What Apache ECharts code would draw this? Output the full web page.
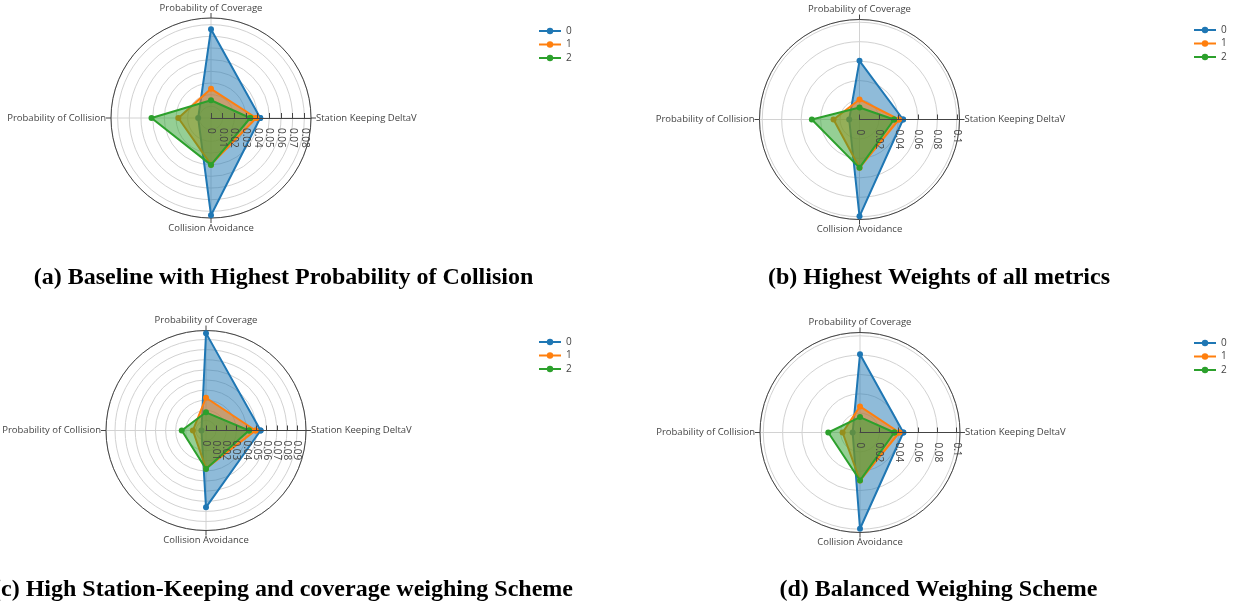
<!DOCTYPE html>
<html>
<head>
<meta charset="utf-8">
<script src="https://cdn.jsdelivr.net/npm/echarts@6/dist/echarts.min.js"></script>
<style>html,body{margin:0;padding:0;background:#fff;}#chart{width:1239px;height:611px;}</style>
</head>
<body>
<div id="chart"></div>
<script>
// Categories in counter-clockwise order starting at 0 degrees (right)
const categories = ['Station Keeping DeltaV', 'Probability of Coverage', 'Probability of Collision', 'Collision Avoidance'];
const seriesNames = ['0', '1', '2'];
const colors = ['#1f77b4', '#ff7f0e', '#2ca02c'];

// (a) Baseline with Highest Probability of Collision
const a0 = [0.0422, 0.0761, 0.0110, 0.0833];
const a1 = [0.0388, 0.0250, 0.0280, 0.0400];
const a2 = [0.0336, 0.0152, 0.0510, 0.0402];
// (b) Highest Weights of all metrics
const b0 = [0.0448, 0.0603, 0.0106, 0.0995];
const b1 = [0.0405, 0.0206, 0.0267, 0.0497];
const b2 = [0.0355, 0.0123, 0.0490, 0.0497];
// (c) High Station-Keeping and coverage weighing Scheme
const c0 = [0.0540, 0.0963, 0.0045, 0.0760];
const c1 = [0.0490, 0.0324, 0.0130, 0.0375];
const c2 = [0.0425, 0.0180, 0.0240, 0.0380];
// (d) Balanced Weighing Scheme
const d0 = [0.0448, 0.0810, 0.0076, 0.0995];
const d1 = [0.0407, 0.0270, 0.0180, 0.0497];
const d2 = [0.0355, 0.0159, 0.0328, 0.0497];

const radialMax = [0.0857, 0.1028, 0.0989, 0.1034];
const radialStep = [0.01, 0.02, 0.01, 0.02];
const captions = [
  '(a) Baseline with Highest Probability of Collision',
  '(b) Highest Weights of all metrics',
  '(c) High Station-Keeping and coverage weighing Scheme',
  '(d) Balanced Weighing Scheme'
];

const panels = [[a0, a1, a2], [b0, b1, b2], [c0, c1, c2], [d0, d1, d2]];
const centers = [[211, 118], [859.5, 119.5], [206, 430.5], [860, 432.5]];
const legendPos = [[538, 25], [1193, 24], [538, 336], [1193, 337]];
const captionPos = [[283.5, 278], [939, 278], [283, 590], [938.5, 590]];

const FONT = '"Open Sans", "DejaVu Sans", sans-serif';
const GRID = '#d2d2d2';

function closed(vals) {
  const d = vals.map((v, i) => [v, i * 90]);
  d.push([vals[0], 360]);
  return d;
}

// polars 0..3: grid + data (below series); polars 4..7: radial axis overlay (above series)
const polar = [], angleAxis = [], radiusAxis = [];
centers.forEach((c, i) => {
  polar.push({ center: c, radius: [0, 100] });
  angleAxis.push({
    polarIndex: i, z: 1,
    type: 'value', min: 0, max: 360, interval: 90,
    startAngle: 0, clockwise: false,
    axisLine: { show: true, lineStyle: { color: '#444', width: 1 } },
    axisTick: { show: true, length: 5, lineStyle: { color: '#444' } },
    axisLabel: {
      formatter: v => (v < 360 ? categories[Math.round(v / 90)] : ''),
      color: '#444', fontSize: 9.5, fontFamily: FONT, margin: 5
    },
    splitLine: { show: true, lineStyle: { color: GRID, width: 1 } }
  });
  radiusAxis.push({
    polarIndex: i, z: 0,
    type: 'value', min: 0, max: radialMax[i], interval: radialStep[i],
    axisLine: { show: false }, axisTick: { show: false }, axisLabel: { show: false },
    splitLine: { show: true, lineStyle: { color: GRID, width: 1 } }
  });
});
centers.forEach((c, i) => {
  const k = i + 4;
  polar.push({ center: c, radius: [0, 100] });
  angleAxis.push({
    polarIndex: k, show: false,
    type: 'value', min: 0, max: 360, interval: 90,
    startAngle: 0, clockwise: false
  });
  radiusAxis.push({
    polarIndex: k, z: 10,
    type: 'value', min: 0, max: radialMax[i], interval: radialStep[i],
    axisLine: { show: true, lineStyle: { color: '#444', width: 1 } },
    axisTick: { show: true, inside: false, length: 5, lineStyle: { color: '#444' } },
    axisLabel: {
      rotate: -90, align: 'left', verticalAlign: 'middle', margin: -10,
      showMaxLabel: false, color: '#444', fontSize: 10, fontFamily: FONT
    },
    splitLine: { show: false }
  });
});

const option = {
  backgroundColor: '#fff',
  animation: false,
  polar, angleAxis, radiusAxis,
  legend: legendPos.map(p => ({
    data: seriesNames,
    orient: 'vertical', left: p[0], top: p[1] + 1, padding: 0,
    itemWidth: 22, itemHeight: 8, itemGap: 3.5,
    textStyle: { fontSize: 10, color: '#444', fontFamily: FONT }
  })),
  series: [],
  graphic: captions.map((t, i) => ({
    type: 'text', x: captionPos[i][0], y: captionPos[i][1],
    style: {
      text: t, font: 'bold 24px "Liberation Serif", "DejaVu Serif", serif',
      fill: '#000', align: 'center', verticalAlign: 'middle'
    }
  }))
};

panels.forEach((sets, p) => {
  sets.forEach((vals, s) => {
    option.series.push({
      type: 'line', name: seriesNames[s],
      coordinateSystem: 'polar', polarIndex: p,
      data: closed(vals),
      symbol: 'circle', symbolSize: 6, showSymbol: true,
      lineStyle: { width: 2, color: colors[s] },
      itemStyle: { color: colors[s] },
      areaStyle: { color: colors[s], opacity: 0.5 },
      z: 2 + s
    });
  });
});

const chart = echarts.init(document.getElementById('chart'), null, { renderer: 'canvas' });
chart.setOption(option);
</script>
</body>
</html>
